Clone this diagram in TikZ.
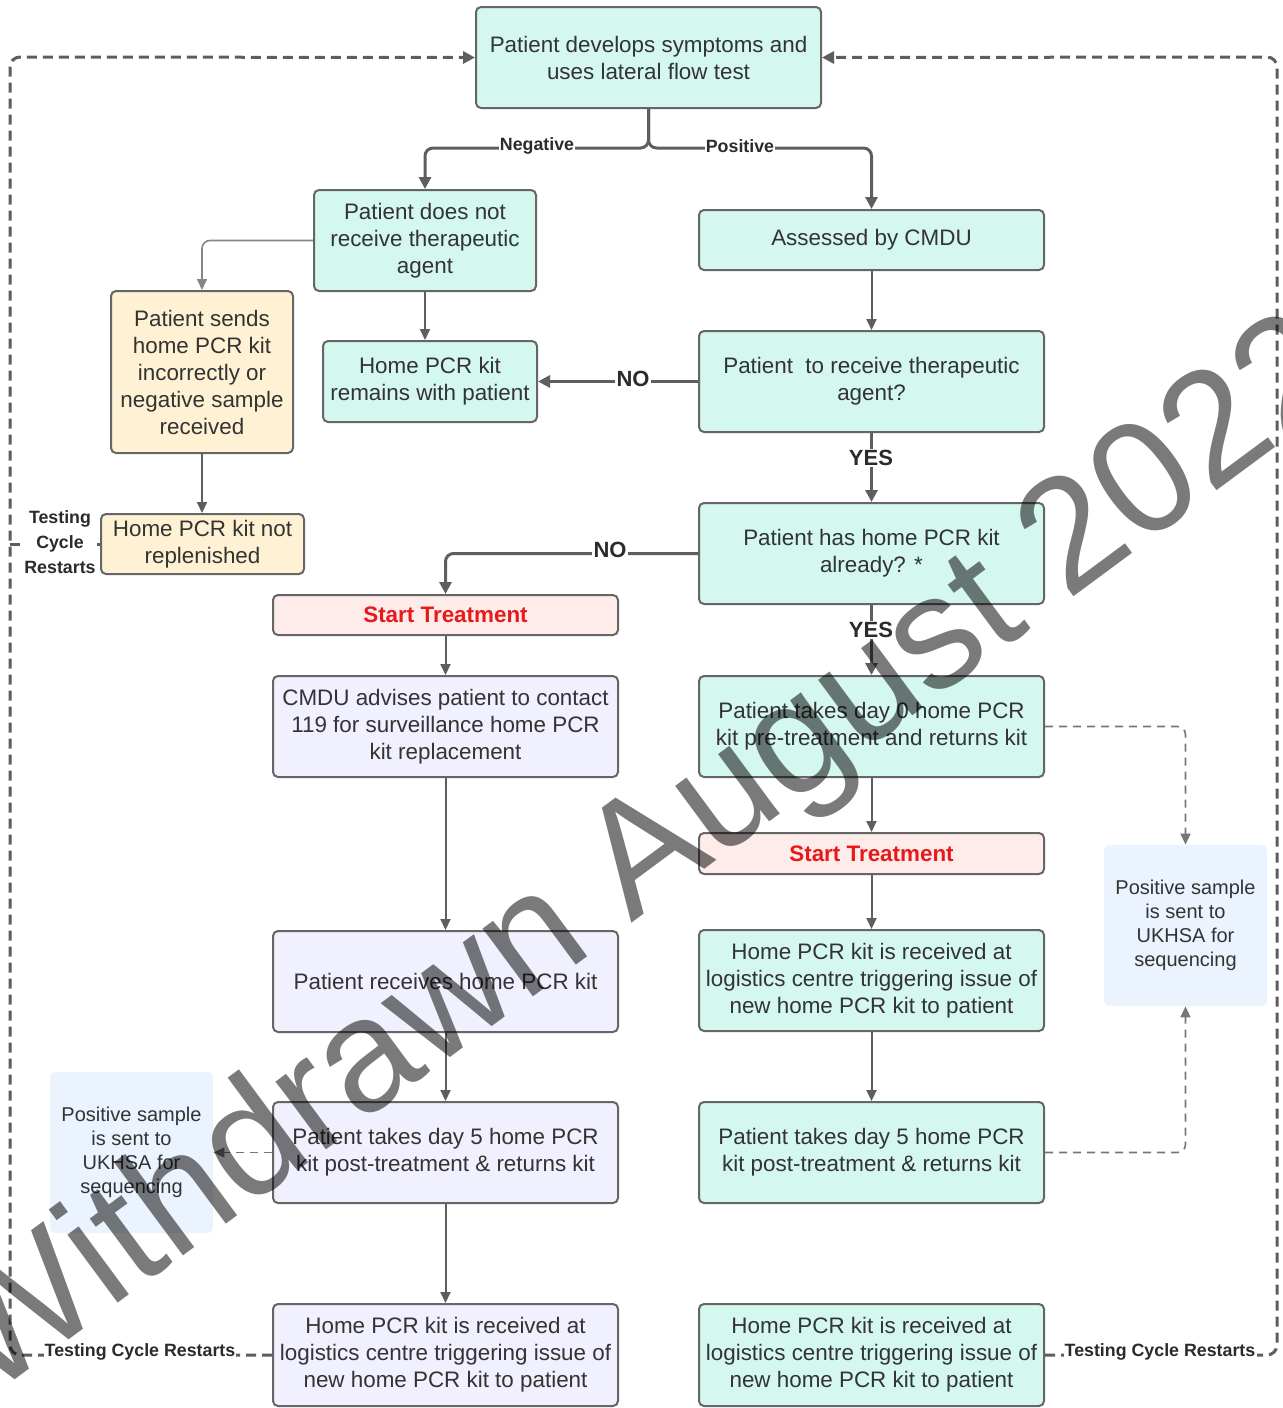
\documentclass[tikz,border=0pt]{standalone}
\usepackage{fontspec}
\setmainfont{Liberation Sans}
\usetikzlibrary{arrows.meta}
\definecolor{mint}{HTML}{D4F7F0}
\definecolor{lav}{HTML}{F0F0FE}
\definecolor{cream}{HTML}{FFF1D4}
\definecolor{pinkc}{HTML}{FDECEA}
\definecolor{pale}{HTML}{EBF3FE}
\definecolor{bord}{HTML}{666666}
\definecolor{txt}{HTML}{333333}
\definecolor{lnc}{HTML}{5E5E5E}
\definecolor{redt}{HTML}{E8191B}
\newcommand\myfs[2]{\fontsize{#1pt}{#2pt}\selectfont}
\tikzset{
  box/.style={draw=bord, line width=1pt, rounded corners=2.5pt, align=center, text=txt, font=\myfs{11.2}{13.5}, inner sep=0pt},
  mintb/.style={box, fill=mint},
  lavb/.style={box, fill=lav},
  creamb/.style={box, fill=cream},
  pinkb/.style={box, fill=pinkc, text=redt, font=\bfseries\myfs{11.2}{13.5}},
  blueb/.style={fill=pale, rounded corners=2.5pt, align=center, text=txt, font=\myfs{10}{12}, inner sep=0pt},
  thk/.style={draw=lnc, line width=1.5pt, rounded corners=4pt, -{Triangle[length=6pt,width=6pt]}},
  thn/.style={draw=lnc, line width=1pt, rounded corners=4pt, -{Triangle[length=5.5pt,width=5pt]}},
  lite/.style={draw=lnc!75, line width=0.8pt, rounded corners=4pt, -{Triangle[length=5.5pt,width=5pt]}},
  loopd/.style={draw=lnc, line width=1.5pt, dash pattern=on 5pt off 3pt, rounded corners=5pt},
  thind/.style={draw=lnc!85, line width=0.8pt, dash pattern=on 4pt off 3pt, rounded corners=4pt, -{Triangle[length=5.5pt,width=5pt]}},
  lbl/.style={fill=white, inner sep=0.6pt, text=txt!85!black, font=\bfseries\myfs{8.9}{12.5}, align=center},
  biglbl/.style={fill=white, inner sep=0.6pt, text=txt!85!black, font=\bfseries\myfs{11}{13}},
}
\begin{document}
\begin{tikzpicture}[x=0.5pt,y=-0.5pt]
\useasboundingbox (0,0) rectangle (1282,1408);
\clip (0,0) rectangle (1282,1408);
\fill[white] (0,0) rectangle (1282,1408);

% boxes
\node[mintb, minimum width=172.5pt, minimum height=50.5pt] (b1) at (648.5,57.5) {Patient develops symptoms and\\uses lateral flow test};
\node[mintb, minimum width=111pt, minimum height=50.5pt] (b2) at (425,240.5) {Patient does not\\receive therapeutic\\agent};
\node[mintb, minimum width=172.5pt, minimum height=30pt] (b3) at (871.5,240) {Assessed by CMDU};
\node[creamb, minimum width=91pt, minimum height=81pt] (b4) at (202,372) {Patient sends\\home PCR kit\\incorrectly or\\negative sample\\received};
\node[mintb, minimum width=107pt, minimum height=40.5pt] (b5) at (430,381.5) {Home PCR kit\\remains with patient};
\node[mintb, minimum width=172.5pt, minimum height=50.5pt] (b6) at (871.5,381.5) {Patient\ \ to receive therapeutic\\agent?};
\node[creamb, minimum width=101.5pt, minimum height=30pt] (b7) at (202.5,544) {Home PCR kit not\\replenished};
\node[mintb, minimum width=172.5pt, minimum height=50.5pt] (b8) at (871.5,553.5) {Patient has home PCR kit\\already? *};
\node[pinkb, minimum width=172.5pt, minimum height=20pt] (b9) at (445.5,615) {Start Treatment};
\node[lavb, minimum width=172.5pt, minimum height=50.5pt] (b10) at (445.5,726.5) {CMDU advises patient to contact\\119 for surveillance home PCR\\kit replacement};
\node[mintb, minimum width=172.5pt, minimum height=50.5pt] (b11) at (871.5,726.5) {Patient takes day 0 home PCR\\kit pre-treatment and returns kit};
\node[pinkb, minimum width=172.5pt, minimum height=20.5pt] (b12) at (871.5,853.5) {Start Treatment};
\node[lavb, minimum width=172.5pt, minimum height=50.5pt] (b13) at (445.5,981.5) {Patient receives home PCR kit};
\node[mintb, minimum width=172.5pt, minimum height=50.5pt] (b14) at (871.5,980.5) {Home PCR kit is received at\\logistics centre triggering issue of\\new home PCR kit to patient};
\node[blueb, minimum width=81.5pt, minimum height=80.5pt] (b15) at (1185.5,925.5) {Positive sample\\is sent to\\UKHSA for\\sequencing};
\node[lavb, minimum width=172.5pt, minimum height=50.5pt] (b16) at (445.5,1152.5) {Patient takes day 5 home PCR\\kit post-treatment \& returns kit};
\node[mintb, minimum width=172.5pt, minimum height=50.5pt] (b17) at (871.5,1152.5) {Patient takes day 5 home PCR\\kit post-treatment \& returns kit};
\node[blueb, minimum width=81.5pt, minimum height=80.5pt] (b18) at (131.5,1152.5) {Positive sample\\is sent to\\UKHSA for\\sequencing};
\node[lavb, minimum width=172.5pt, minimum height=51pt] (b19) at (445.5,1355) {Home PCR kit is received at\\logistics centre triggering issue of\\new home PCR kit to patient};
\node[mintb, minimum width=172.5pt, minimum height=51pt] (b20) at (871.5,1355) {Home PCR kit is received at\\logistics centre triggering issue of\\new home PCR kit to patient};

% coordinates for loops
\coordinate (split) at (648.5,148);
\coordinate (lt) at (10,57);
\coordinate (lb) at (10,1355);
\coordinate (lm) at (10,544);
\coordinate (rt) at (1277,57);
\coordinate (rb) at (1277,1355);

% connectors
\draw[thk] (b1.south) -- (split) -| (b2.north);
\draw[thk] (b1.south) -- (split) -| (b3.north);
\node[lbl] at (537,146) {Negative};
\node[lbl] at (740,146) {Positive};
\draw[lite] (b2.west) -| (b4.north);
\draw[thn] (b2.south) -- (b2.south |- b5.north);
\draw[thn] (b3.south) -- (b6.north);
\draw[thk] (b6.west) -- (b5.east);
\node[biglbl] at (633,379) {NO};
\draw[thk] (b6.south) -- (b8.north);
\node[biglbl] at (871,458) {YES};
\draw[thn] (b4.south) -- (b4.south |- b7.north);
\draw[thk] (b8.west) -| (b9.north);
\node[biglbl] at (610,550) {NO};
\draw[thk] (b8.south) -- (b11.north);
\node[biglbl] at (871,630) {YES};
\draw[thn] (b9.south) -- (b10.north);
\draw[thn] (b10.south) -- (b13.north);
\draw[thn] (b11.south) -- (b12.north);
\draw[thn] (b12.south) -- (b14.north);
\draw[thn] (b14.south) -- (b17.north);
\draw[thn] (b13.south) -- (b16.north);
\draw[thn] (b16.south) -- (b19.north);
\draw[thind] (b11.east) -| (b15.north);
\draw[thind] (b17.east) -| (b15.south);
\draw[thind] (b16.west) -- (b18.east);

% testing cycle loops
\draw[loopd, -{Triangle[length=6pt,width=6pt]}] (b19.west) -- (lb) -- (lt) -- (b1.west);
\draw[loopd] (b7.west) -- (lm);
\draw[loopd, -{Triangle[length=6pt,width=6pt]}] (b20.east) -- (rb) -- (rt) -- (b1.east);
\node[lbl] at (60,542) {Testing\\Cycle\\Restarts};
\node[lbl] at (140,1352) {Testing Cycle Restarts};
\node[lbl] at (1160,1352) {Testing Cycle Restarts};

% watermark
\node[rotate=36.5, anchor=base west, inner sep=0pt, text=black, text opacity=0.52, font=\myfs{80}{80}] (wm) at (-12,1400) {Withdrawn August 2022};
\end{tikzpicture}
\end{document}
